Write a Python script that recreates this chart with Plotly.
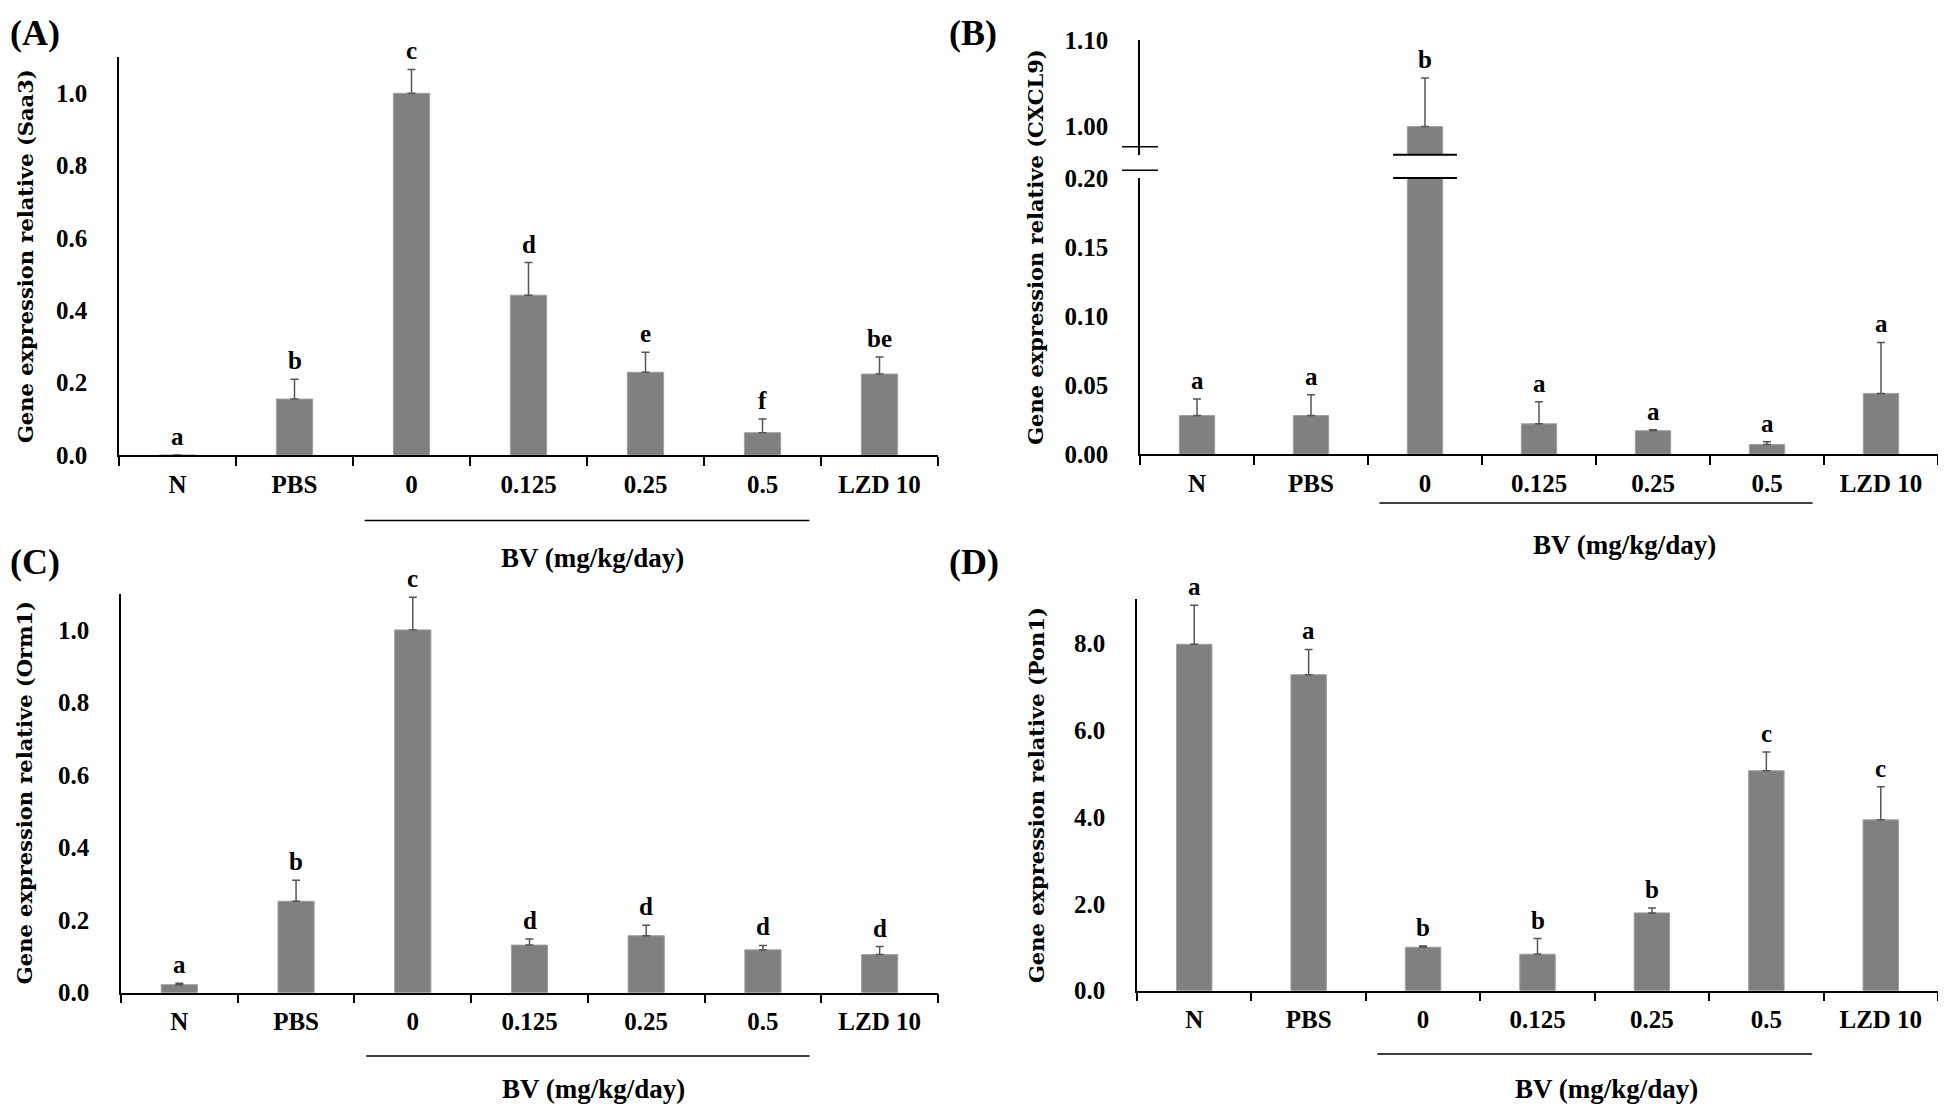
"""Relative gene expression (Saa3, CXCL9, Orm1, Pon1) - four bar panels."""

import plotly.graph_objects as go

# ---- data ----
categories = ["N", "PBS", "0", "0.125", "0.25", "0.5", "LZD 10"]
bv_group = ["0", "0.125", "0.25", "0.5"]

saa3_mean = [0.0, 0.155, 1.0, 0.442, 0.229, 0.062, 0.224]
saa3_err = [0.0, 0.055, 0.066, 0.090, 0.055, 0.038, 0.047]
saa3_sig = ["a", "b", "c", "d", "e", "f", "be"]

cxcl9_mean = [0.028, 0.028, 1.0, 0.022, 0.017, 0.007, 0.044]
cxcl9_err = [0.012, 0.015, 0.056, 0.016, 0.0006, 0.002, 0.037]
cxcl9_sig = ["a", "a", "b", "a", "a", "a", "a"]

orm1_mean = [0.022, 0.252, 1.0, 0.131, 0.157, 0.118, 0.105]
orm1_err = [0.004, 0.058, 0.090, 0.017, 0.029, 0.012, 0.022]
orm1_sig = ["a", "b", "c", "d", "d", "d", "d"]

pon1_mean = [7.97, 7.27, 1.0, 0.84, 1.79, 5.06, 3.93]
pon1_err = [0.90, 0.58, 0.03, 0.36, 0.11, 0.43, 0.76]
pon1_sig = ["a", "a", "b", "b", "b", "c", "c"]

# page is 1946x1120; the html body keeps its default 8px margin,
# so the figure is made 16px smaller and positions are given in page pixels
OFF = 8
W, H = 1946 - 2 * OFF, 1120 - 2 * OFF
BAR = "#808080"
ERR = "#555555"
SERIF = "Liberation Serif"


def px(x):
    return min(max((x - OFF) / W, 0), 1)


def py(y):
    return min(max(1 - (y - OFF) / H, 0), 1)


fig = go.Figure()


def add_bars(mean, err, xa, ya):
    fig.add_trace(go.Bar(
        x=categories, y=mean, xaxis=xa, yaxis=ya, width=0.31,
        marker=dict(color=BAR, line=dict(color="#a0a0a0", width=1)),
        error_y=dict(type="data", array=err, arrayminus=[0] * len(err),
                     symmetric=False, color=ERR, thickness=1.5, width=4),
        showlegend=False, hoverinfo="x+y",
    ))


add_bars(saa3_mean, saa3_err, "x", "y")
add_bars(cxcl9_mean, cxcl9_err, "x2", "y2")   # lower part of broken axis
add_bars(cxcl9_mean, cxcl9_err, "x2", "y3")   # upper part
add_bars(orm1_mean, orm1_err, "x3", "y4")
add_bars(pon1_mean, pon1_err, "x4", "y5")

tick_font = dict(family=SERIF, size=25, color="black", weight="bold")
xax = dict(type="category", range=[-0.5, 6.5], tickson="boundaries",
           ticks="outside", ticklen=9, tickwidth=1.5, tickcolor="black",
           showline=True, linecolor="black", linewidth=1.5, showgrid=False,
           zeroline=False, tickfont=tick_font, ticklabelstandoff=6,
           fixedrange=True)
yax = dict(showline=True, linecolor="black", linewidth=1.5, ticks="",
           showgrid=False, zeroline=False, tickfont=tick_font,
           ticklabelstandoff=25, fixedrange=True)

fig.update_layout(
    width=W, height=H, margin=dict(l=0, r=0, t=0, b=0),
    paper_bgcolor="white", plot_bgcolor="white",
    xaxis=dict(xax, domain=[px(119), px(938)], anchor="y"),
    yaxis=dict(yax, domain=[py(453), py(45)], anchor="x", range=[0, 1.1],
               dtick=0.2, tickformat=".1f"),
    xaxis2=dict(xax, domain=[px(1140), px(1942)], anchor="y2"),
    yaxis2=dict(yax, domain=[py(452), py(169)], anchor="x2",
                range=[0, 0.2001], dtick=0.05, tickformat=".2f"),
    yaxis3=dict(yax, domain=[py(145), py(27)], anchor="x2",
                range=[0.9675, 1.1005], tickvals=[1.0, 1.1], tickformat=".2f"),
    xaxis3=dict(xax, domain=[px(121), px(938)], anchor="y4"),
    yaxis4=dict(yax, domain=[py(1004), py(595)], anchor="x3", range=[0, 1.1],
                dtick=0.2, tickformat=".1f"),
    xaxis4=dict(xax, domain=[px(1137), px(1942)], anchor="y5"),
    yaxis5=dict(yax, domain=[py(1002), py(601)], anchor="x4", range=[0, 9.0],
                dtick=2, tickformat=".1f"),
    bargap=0.69,
)

letter_font = dict(family=SERIF, size=25, color="black", weight="bold")
title_font = dict(family="DejaVu Serif", size=21, color="black", weight="bold")
label_font = dict(family=SERIF, size=27, color="black", weight="bold")
panel_font = dict(family=SERIF, size=36, color="black", weight="bold")

# panel: tag, gene, x axis, y axis, values, errs, letters, title x,
#        underline y, BV label y, BV label x (category units), tag position
panels = [
    ("(A)", "Saa3", "x", "y", saa3_mean, saa3_err, saa3_sig, 25, 520, 558, 3.55, (1, 20)),
    ("(B)", "CXCL9", "x2", "y2", cxcl9_mean, cxcl9_err, cxcl9_sig, 1036, 502, 545, 3.75, (947, 20)),
    ("(C)", "Orm1", "x3", "y4", orm1_mean, orm1_err, orm1_sig, 24, 1069, 1103, 3.55, (1, 563)),
    ("(D)", "Pon1", "x4", "y5", pon1_mean, pon1_err, pon1_sig, 1036, 1067, 1103, 3.6, (947, 563)),
]

g0 = categories.index(bv_group[0])
g1 = categories.index(bv_group[-1])

for tag, gene, xa, ya, mean, err, sig, tx, uy, by, bx, (lx, ly) in panels:
    yname = "yaxis" + ya[1:]
    dom = list(fig.layout[yname].domain)
    if ya == "y2":
        dom = [dom[0], fig.layout.yaxis3.domain[1]]
    # significance letters (x as category index)
    for i, (m, e, s) in enumerate(zip(mean, err, sig)):
        top = m + e
        yref = ya
        if ya == "y2" and top > 0.2:
            yref = "y3"
        fig.add_annotation(x=i, y=top, xref=xa, yref=yref, text=s,
                           showarrow=False, xanchor="center",
                           yanchor="bottom", yshift=3, font=letter_font)
    # y-axis title
    fig.add_annotation(x=px(tx), y=(dom[0] + dom[1]) / 2, xref="paper",
                       yref="paper", text=f"Gene expression relative ({gene})",
                       textangle=-90, showarrow=False, xanchor="center",
                       yanchor="middle", font=title_font)
    # BV group line and label
    fig.add_shape(type="line", xref=xa, yref="paper", x0=g0 - 0.4,
                  x1=g1 + 0.4, y0=py(uy), y1=py(uy),
                  line=dict(color="black", width=1.5))
    fig.add_annotation(x=bx, y=py(by), xref=xa, yref="paper",
                       text="BV (mg/kg/day)", showarrow=False,
                       xanchor="center", yanchor="middle", font=label_font)
    # panel tag
    fig.add_annotation(x=px(lx), y=py(ly), xref="paper", yref="paper",
                       text=tag, showarrow=False, xanchor="left",
                       yanchor="middle", font=panel_font)

# axis break marks for panel B
ib = max(range(len(cxcl9_mean)), key=lambda i: cxcl9_mean[i])
for yref, yv in (("y3 domain", 0), ("y2 domain", 1)):
    fig.add_shape(type="line", xref="x2", yref=yref, x0=ib - 0.28,
                  x1=ib + 0.28, y0=yv, y1=yv,
                  line=dict(color="black", width=2))
for yy in (137, 161):
    fig.add_shape(type="line", xref="paper", yref="paper", x0=px(1122),
                  x1=px(1158), y0=py(yy), y1=py(yy),
                  line=dict(color="black", width=1.5))

fig.write_html("out.html")
